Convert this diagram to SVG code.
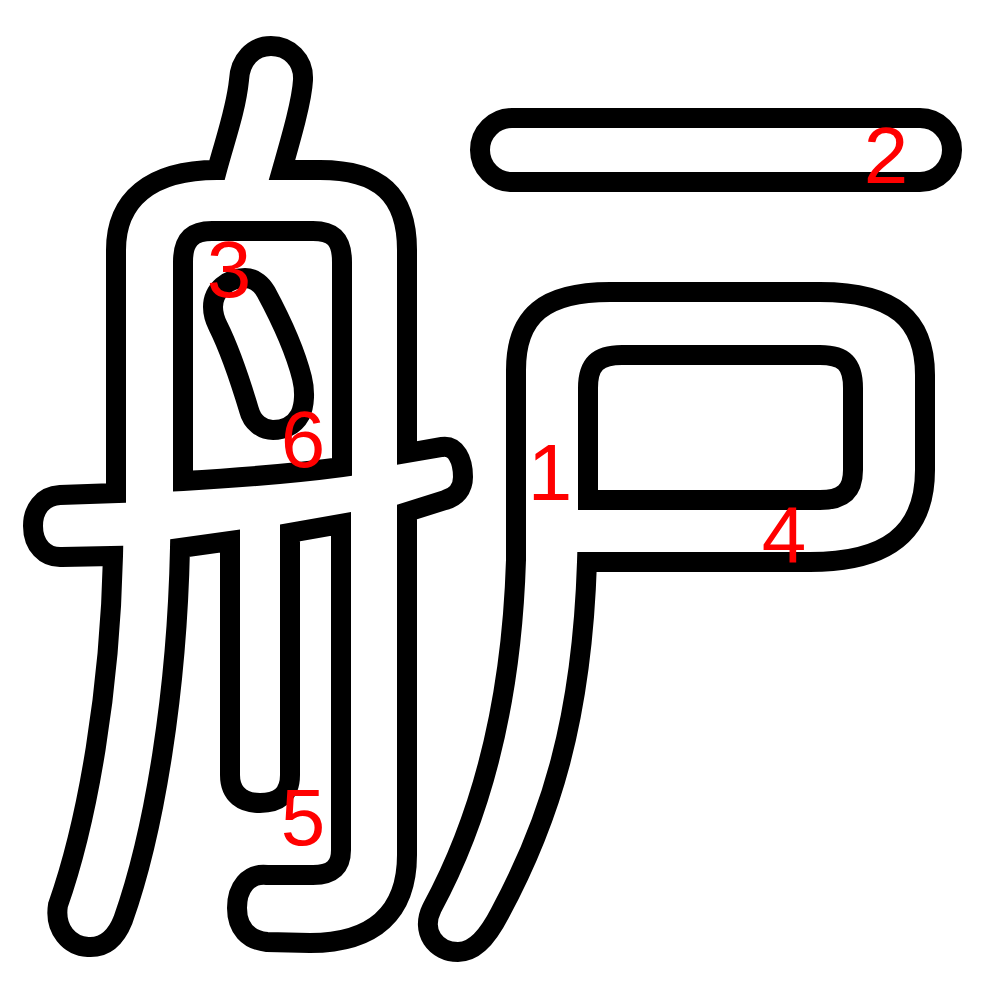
<svg xmlns="http://www.w3.org/2000/svg" width="1000" height="1000" viewBox="0 0 1000 1000">
<style>
.o{fill:#fff;stroke:#000;stroke-width:20;stroke-linejoin:miter;stroke-miterlimit:10}
.n{fill:#f00;font-family:"Liberation Sans",Arial,sans-serif;font-size:80px;text-anchor:middle}
</style>
<rect width="1000" height="1000" fill="#fff"/>
<g id="zhou">
<path class="o" d="M 271 46 C 289 46 304 60 303 80 C 302 100 292 135 282 170 L 320 170 C 380 170 407 195 407 250 L 407 453 L 442 447 C 456 445 463 460 463 477 C 463 489 456 497 445 500 L 407 512 L 407 855 C 407 912 375 943 310 943 L 267 942 C 248 940 237 928 237 908 C 237 888 248 873 267 875 L 313 875 C 333 875 341 866 341 850 L 341 524 L 290 533 L 290 775 C 290 795 278 803 260 803 C 243 803 230 795 230 775 L 230 541 L 180 548 C 177 690 155 830 123 920 C 115 940 103 948 88 947 C 70 946 54 930 58 905 C 88 820 110 690 113 556 L 62 557 C 45 558 33 545 33 526 C 33 510 42 496 60 495 L 116 493 L 116 250 C 116 200 150 170 217 170 C 225 140 236 110 239 80 C 240 60 253 46 271 46 Z"/>
<path class="o" d="M 183 481 L 183 262 C 183 240 192 231 212 231 L 313 231 C 334 231 342 240 342 262 L 342 467 C 290 474 235 478 183 481 Z"/>
<path class="o" d="M 213 307 C 213 290 228 278 245 278 C 255 278 262 285 266 292 C 280 318 295 350 302 378 C 305 390 305 405 300 415 C 294 426 283 430 273 430 C 262 430 252 422 249 410 C 240 380 230 350 218 326 C 215 320 213 314 213 307 Z"/>
</g>
<g id="hu">
<rect class="o" x="480" y="118" width="472" height="64" rx="32"/>
<path class="o" d="M 516 370 C 516 315 545 292 610 292 L 820 292 C 895 292 925 320 925 375 L 925 470 C 925 535 885 562 810 562 L 587 562 C 582 720 550 820 500 913 C 485 942 472 952 458 952 C 436 952 420 932 432 908 C 485 810 512 690 516 560 Z"/>
<path class="o" d="M 588 500 L 588 388 C 588 364 598 355 622 355 L 820 355 C 844 355 853 364 853 388 L 853 470 C 853 491 843 500 820 500 Z"/>
</g>
<g id="labels">
<text class="n" x="550" y="500">1</text>
<text class="n" x="886" y="183">2</text>
<text class="n" x="229" y="297">3</text>
<text class="n" x="784" y="562">4</text>
<text class="n" x="303" y="845">5</text>
<text class="n" x="303" y="467">6</text>
</g>
</svg>
